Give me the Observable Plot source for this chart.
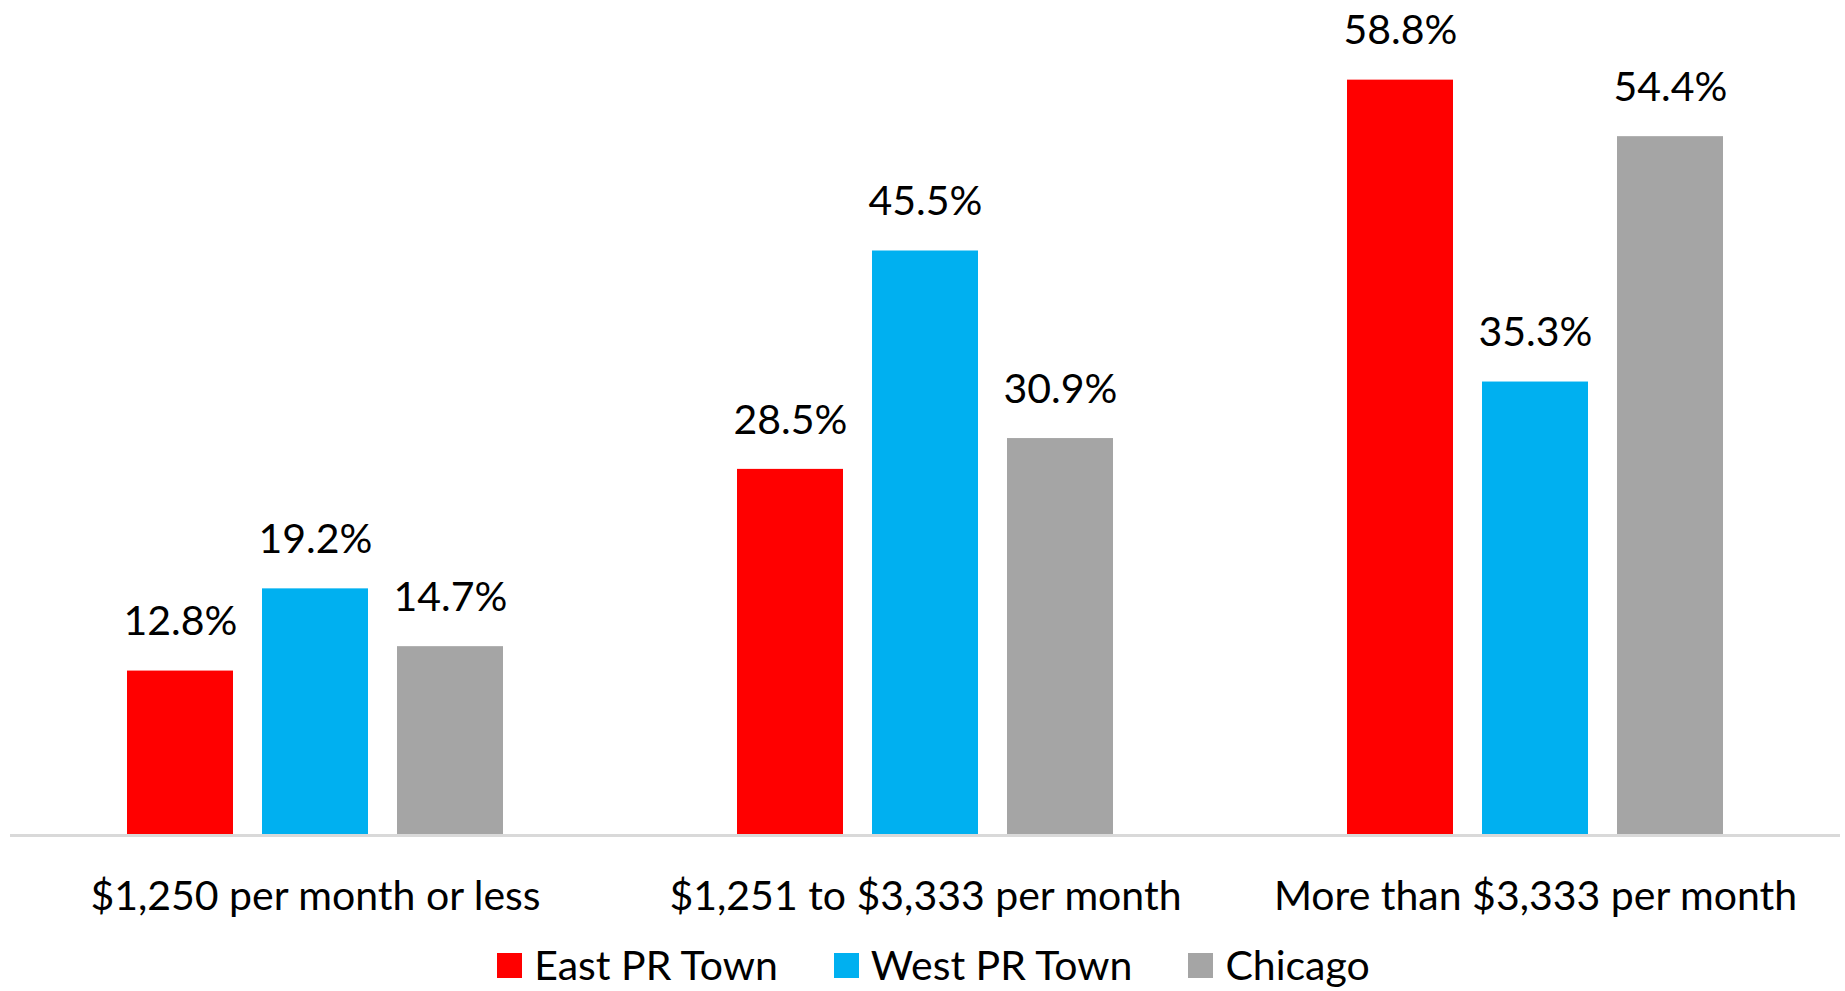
<!DOCTYPE html>
<html>
<head>
<meta charset="utf-8">
<script src="https://cdn.jsdelivr.net/npm/d3@7"></script>
<script src="https://cdn.jsdelivr.net/npm/@observablehq/plot@0.6"></script>
<style>
  html, body { margin: 0; padding: 0; background: #fff; overflow: hidden; }
  body { font-family: Lato, "Open Sans", sans-serif; }
  #legend { display: flex; justify-content: center; align-items: center; height: 46px; line-height: 46px; padding-left: 22px; font-size: 41px; color: #000; }
  .item { display: flex; align-items: center; margin: 0 28px; }
  .sw { width: 25px; height: 25px; margin-right: 12px; }
</style>
</head>
<body>
<div id="chart"></div>
<div id="legend"></div>
<script>
const categories = ["$1,250 per month or less", "$1,251 to $3,333 per month", "More than $3,333 per month"];
const series = ["East PR Town", "West PR Town", "Chicago"];
const colors = ["#ff0000", "#00b0f0", "#a5a5a5"];
const eastPR = [12.8, 28.5, 58.8];
const westPR = [19.2, 45.5, 35.3];
const chicago = [14.7, 30.9, 54.4];

const valuesBySeries = [eastPR, westPR, chicago];
const data = [];
categories.forEach((c, i) => {
  series.forEach((s, j) => data.push({cat: c, series: s, value: valuesBySeries[j][i]}));
});

const font = "Lato, 'Open Sans', sans-serif";
const plot = Plot.plot({
  width: 1845,
  height: 942,
  marginLeft: 9,
  marginRight: 4,
  marginTop: 0,
  marginBottom: 107,
  style: {fontFamily: font, fontSize: "41px", color: "#000", background: "#fff"},
  fx: {domain: categories, padding: 0, label: null},
  x: {domain: series, paddingInner: 0.212, paddingOuter: 0.862, axis: null},
  y: {domain: [0, 65], axis: null},
  color: {domain: series, range: colors},
  marks: [
    Plot.barY(data, {fx: "cat", x: "series", y: "value", fill: "series"}),
    Plot.ruleY([0], {stroke: "#d9d9d9", strokeWidth: 3}),
    Plot.text(data, {fx: "cat", x: "series", y: "value", text: d => d.value.toFixed(1) + "%", dy: -49, fill: "#000", fontSize: 41}),
    Plot.axisFx({anchor: "bottom", tickSize: 0, tickPadding: 45, label: null, fontSize: 41, fill: "#000"})
  ]
});
document.getElementById("chart").appendChild(plot);

const legend = document.getElementById("legend");
series.forEach((s, i) => {
  const item = document.createElement("div");
  item.className = "item";
  const sw = document.createElement("span");
  sw.className = "sw";
  sw.style.background = colors[i];
  const t = document.createElement("span");
  t.textContent = s;
  item.appendChild(sw);
  item.appendChild(t);
  legend.appendChild(item);
});
</script>
</body>
</html>
